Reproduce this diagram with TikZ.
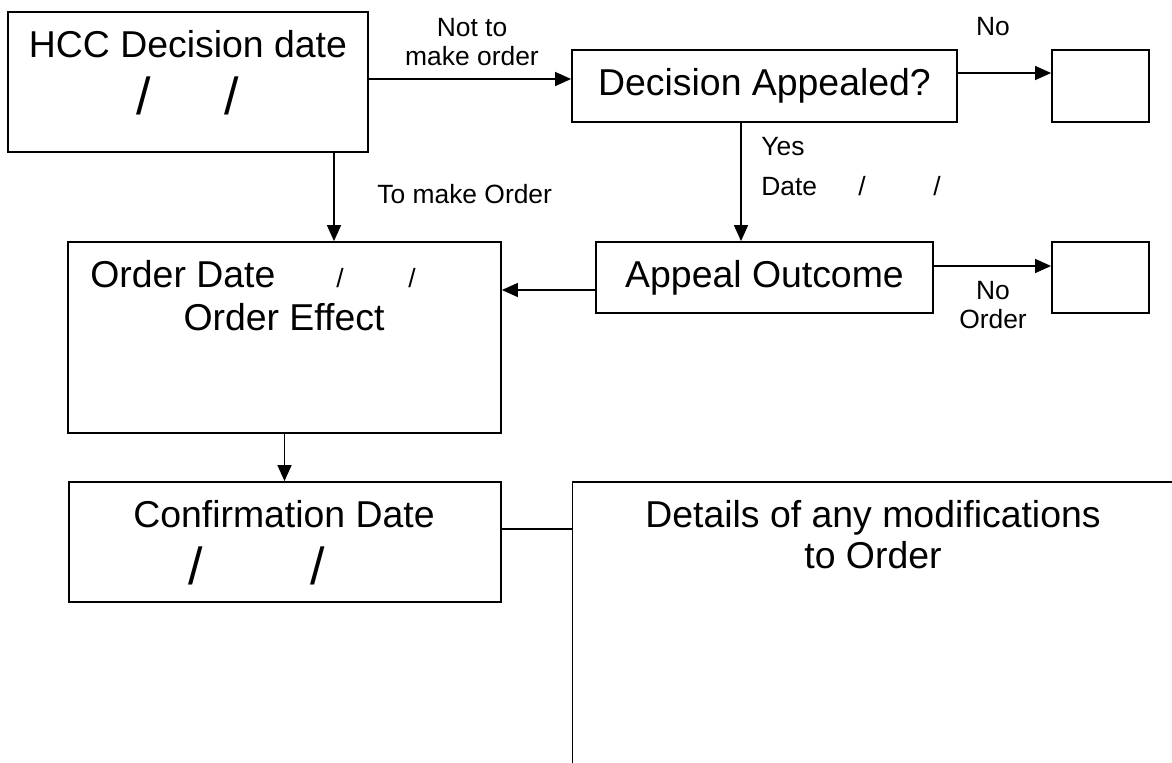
\documentclass[tikz,border=0pt]{standalone}
\usepackage{fontspec}
\setmainfont{Liberation Sans}
\usetikzlibrary{arrows.meta}

\tikzset{
  box/.style={draw, line width=0.9pt, inner sep=0pt},
  arr/.style={line width=0.7pt, -{Triangle[length=8pt,width=7pt]}},
  big/.style={inner sep=0pt, font=\fontsize{18.7}{22}\selectfont},
  small/.style={inner sep=0pt, font=\fontsize{13.2}{15}\selectfont},
  slash/.style={inner sep=0pt, font=\fontsize{26}{31}\selectfont}
}

\begin{document}
\begin{tikzpicture}[x=0.5pt, y=-0.5pt]
    \useasboundingbox (0,0) rectangle (1172,762);
    \clip (0,0) rectangle (1172,762);

    % boxes
    \node[box, minimum width=180pt, minimum height=70pt] (hcc) at (188,82) {};
    \node[box, big, minimum width=192.5pt, minimum height=36pt] (appealq) at (764.5,86) {Decision Appealed?};
    \node[box, minimum width=48.5pt, minimum height=36pt] (nobox) at (1100.5,86) {};
    \node[box, big, minimum width=168.5pt, minimum height=35.5pt] (outcome) at (764.5,277.5) {Appeal Outcome};
    \node[box, minimum width=48.5pt, minimum height=35.5pt] (noorder) at (1100.5,277.5) {};
    \node[box, minimum width=216.5pt, minimum height=95.5pt] (order) at (284.5,337.5) {};
    \node[box, minimum width=216pt, minimum height=60pt] (confirm) at (285,542) {};
    \node[box, minimum width=338.75pt, minimum height=169pt] (details) at (911.25,651) {};

    % box texts
    \node[big, anchor=base] (hcctitle) at (188,57) {HCC Decision date};
    \node[slash, anchor=base] (hccslasha) at (143.5,114) {/};
    \node[slash, anchor=base] (hccslashb) at (231.5,114) {/};
    \node[big, anchor=base west] (ordertitle) at (90,287) {Order Date};
    \node[small, anchor=base] (orderslasha) at (340,287) {/};
    \node[small, anchor=base] (orderslashb) at (412,287) {/};
    \node[big, anchor=base] (ordereffect) at (284,330) {Order Effect};
    \node[big, anchor=base] (conftitle) at (284,527) {Confirmation Date};
    \node[slash, anchor=base] (confslasha) at (196,584) {/};
    \node[slash, anchor=base] (confslashb) at (318,584) {/};
    \node[big, anchor=base] (detailsa) at (873,527) {Details of any modifications};
    \node[big, anchor=base] (detailsb) at (873,568) {to Order};

    % labels
    \node[small, anchor=base] (notto) at (472,36) {Not to};
    \node[small, anchor=base] (makeorder) at (472,65) {make order};
    \node[small, anchor=base] (noq) at (993,35) {No};
    \node[small, anchor=base west] (yes) at (761,155) {Yes};
    \node[small, anchor=base west] (apdate) at (761,195) {Date};
    \node[small, anchor=base] (apslasha) at (862,195) {/};
    \node[small, anchor=base] (apslashb) at (937,195) {/};
    \node[small, anchor=base west] (tomake) at (377,203) {To make Order};
    \node[small, anchor=base] (noout) at (993,299) {No};
    \node[small, anchor=base] (nooutorder) at (993,328) {Order};

    % connectors
    \draw[arr] ([yshift=1.5pt]hcc.east) -- ([yshift=3.5pt]appealq.west);
    \draw[arr] ([yshift=6.5pt]appealq.east) -- ([yshift=6.5pt]nobox.west);
    \draw[arr] ([xshift=-11.75pt]appealq.south) -- ([xshift=-11.75pt]outcome.north);
    \draw[arr] ([yshift=5.75pt]outcome.east) -- ([yshift=5.75pt]noorder.west);
    \draw[arr] ([yshift=-6.25pt]outcome.west) -- ([yshift=23.75pt]order.east);
    \draw[arr] ([xshift=73pt]hcc.south) -- ([xshift=24.75pt]order.north);
    \draw[arr] (order.south) -- (order.south |- confirm.north);
    \draw[line width=0.7pt] ([yshift=6.5pt]confirm.east) -- ([yshift=61pt]details.west);
\end{tikzpicture}
\end{document}
